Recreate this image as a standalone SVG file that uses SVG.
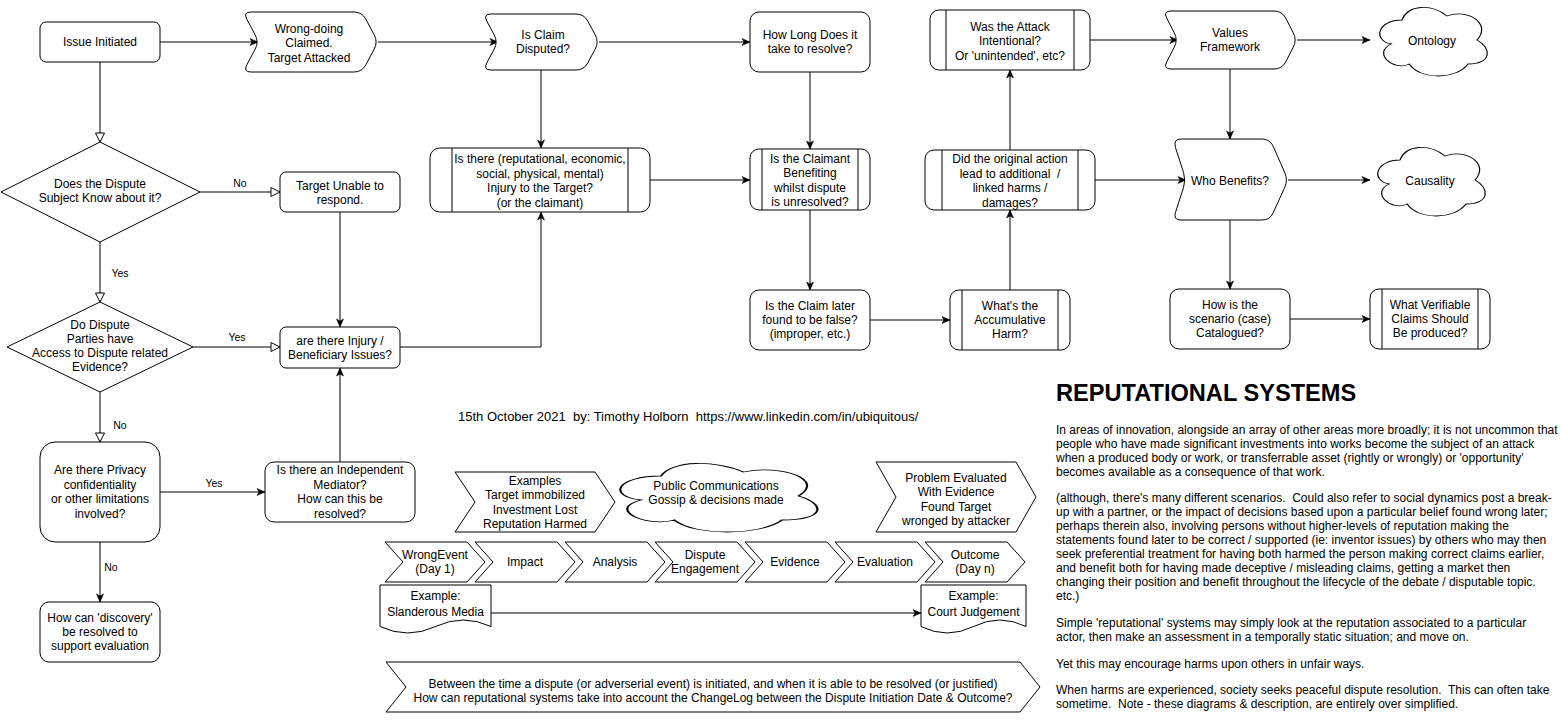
<svg xmlns="http://www.w3.org/2000/svg" width="1561" height="724" viewBox="0 0 1561 724">
<style>
.s{fill:#fff;stroke:#000;stroke-width:1}
.l{fill:none;stroke:#000;stroke-width:1}
text{font-family:"Liberation Sans",Arial,Helvetica,sans-serif;font-size:12px;fill:#000;white-space:pre}
.c{text-anchor:middle}
.lb{font-size:10.5px;text-anchor:middle}
.h{font-size:23.6px;font-weight:bold}
.cr{font-size:13px}
.cl{fill:#fff;stroke:#000;stroke-width:1;vector-effect:non-scaling-stroke}
</style>
<defs>
<marker id="a" markerUnits="userSpaceOnUse" markerWidth="10" markerHeight="10" refX="8" refY="4" orient="auto" overflow="visible"><path d="M0,0.5 L8,4 L0,7.5 L2,4 Z" fill="#000" stroke="#000" stroke-width="0.5"/></marker>
<marker id="o" markerUnits="userSpaceOnUse" markerWidth="12" markerHeight="12" refX="9" refY="4.5" orient="auto" overflow="visible"><path d="M0,0 L9,4.5 L0,9 Z" fill="#fff" stroke="#000" stroke-width="1"/></marker>
<path id="cloud" d="M25,25 C5,25 0,50 16,55 C0,66 18,90 31,80 C40,100 70,100 80,80 C100,80 100,60 87.5,50 C100,30 80,10 62.5,20 C50,5 30,5 25,25 Z"/>
</defs>
<rect x="0" y="0" width="1561" height="724" fill="#fff"/>

<g id="connectors">
<path class="l" d="M160,42 H258" marker-end="url(#a)"/>
<path class="l" d="M378,42 H498" marker-end="url(#a)"/>
<path class="l" d="M599,42 H750" marker-end="url(#a)"/>
<path class="l" d="M541,70 V148" marker-end="url(#a)"/>
<path class="l" d="M810,72 V149" marker-end="url(#a)"/>
<path class="l" d="M650,180 H750" marker-end="url(#a)"/>
<path class="l" d="M810,210 V290" marker-end="url(#a)"/>
<path class="l" d="M870,320 H950" marker-end="url(#a)"/>
<path class="l" d="M1010,290 V210" marker-end="url(#a)"/>
<path class="l" d="M1010,150 V70" marker-end="url(#a)"/>
<path class="l" d="M1090,40 H1178" marker-end="url(#a)"/>
<path class="l" d="M1095,180 H1186" marker-end="url(#a)"/>
<path class="l" d="M1297,40 H1370" marker-end="url(#a)"/>
<path class="l" d="M1230,69 V139" marker-end="url(#a)"/>
<path class="l" d="M1288,180 H1370" marker-end="url(#a)"/>
<path class="l" d="M1230,220 V289" marker-end="url(#a)"/>
<path class="l" d="M1290,319 H1370" marker-end="url(#a)"/>
<path class="l" d="M100,62 V142" marker-end="url(#o)"/>
<path class="l" d="M200,192 H280" marker-end="url(#o)"/>
<path class="l" d="M100,242 V302" marker-end="url(#o)"/>
<path class="l" d="M193,347 H280" marker-end="url(#o)"/>
<path class="l" d="M100,392 V442" marker-end="url(#o)"/>
<path class="l" d="M340,212 V327" marker-end="url(#a)"/>
<path class="l" d="M400,347 H541 V212" marker-end="url(#a)"/>
<path class="l" d="M160,492 H265" marker-end="url(#a)"/>
<path class="l" d="M100,542 V602" marker-end="url(#a)"/>
<path class="l" d="M340,462 V368" marker-end="url(#a)"/>
<path class="l" d="M491,613 H921" marker-end="url(#a)"/>
<text class="lb" x="240" y="187">No</text>
<text class="lb" x="120" y="277">Yes</text>
<text class="lb" x="237" y="341">Yes</text>
<text class="lb" x="120" y="429">No</text>
<text class="lb" x="214" y="487">Yes</text>
<text class="lb" x="111" y="571">No</text>
</g>

<g id="issue-initiated"><rect class="s" x="40" y="22" width="120" height="40" rx="6"/><text class="c" x="100" y="46">Issue Initiated</text></g>

<g id="wrong-doing"><path class="s" d="M300,12 L354,12 Q362,12 365.8,19.1 L374.2,34.9 Q378,42 374.2,49.1 L365.8,64.9 Q362,72 354,72 L251,72 Q243,72 246.8,64.9 L255.2,49.1 Q259,42 255.2,34.9 L246.8,19.1 Q243,12 251,12 Z"/><text class="c"><tspan x="309" y="33">Wrong-doing</tspan><tspan x="309" y="47.4">Claimed.</tspan><tspan x="309" y="61.8">Target Attacked</tspan></text></g>

<g id="is-claim-disputed"><path class="s" d="M540,14 L576,14 Q584,14 587.8,21.1 L595.2,34.9 Q599,42 595.2,49.1 L587.8,62.9 Q584,70 576,70 L491,70 Q483,70 486.8,62.9 L494.2,49.1 Q498,42 494.2,34.9 L486.8,21.1 Q483,14 491,14 Z"/><text class="c"><tspan x="543" y="39">Is Claim</tspan><tspan x="543" y="53.4">Disputed?</tspan></text></g>

<g id="how-long"><rect class="s" x="750" y="12" width="120" height="60" rx="9"/><text class="c"><tspan x="810" y="39">How Long Does it</tspan><tspan x="810" y="53.4">take to resolve?</tspan></text></g>

<g id="was-attack-intentional"><rect class="s" x="930" y="10" width="160" height="60" rx="9"/><path class="l" d="M946,10 V70 M1074,10 V70"/><text class="c"><tspan x="1010" y="30.8">Was the Attack</tspan><tspan x="1010" y="45.2">Intentional?</tspan><tspan x="1010" y="59.6">Or 'unintended', etc?</tspan></text></g>

<g id="values-framework"><path class="s" d="M1230,11 L1274,11 Q1282,11 1285.7,18.1 L1293.3,32.9 Q1297,40 1293.3,47.1 L1285.7,61.9 Q1282,69 1274,69 L1171,69 Q1163,69 1166.7,61.9 L1174.3,47.1 Q1178,40 1174.3,32.9 L1166.7,18.1 Q1163,11 1171,11 Z"/><text class="c"><tspan x="1230" y="37">Values</tspan><tspan x="1230" y="51.4">Framework</tspan></text></g>

<g id="ontology"><use href="#cloud" class="cl" transform="translate(1372,0) scale(1.2,0.8)"/><text class="c" x="1432" y="45">Ontology</text></g>

<g id="dispute-subject-know"><polygon class="s" points="100,142 200,192 100,242 1,192"/><text class="c"><tspan x="100" y="188">Does the Dispute</tspan><tspan x="100" y="202.4">Subject Know about it?</tspan></text></g>

<g id="target-unable"><rect class="s" x="280" y="172" width="120" height="40" rx="6"/><text class="c"><tspan x="340" y="190">Target Unable to</tspan><tspan x="340" y="204.4">respond.</tspan></text></g>

<g id="is-there-injury"><rect class="s" x="430" y="148" width="220" height="64" rx="9.6"/><path class="l" d="M452,148 V212 M628,148 V212"/><text class="c"><tspan x="540" y="163.4">Is there (reputational, economic,</tspan><tspan x="540" y="177.8">social, physical, mental)</tspan><tspan x="540" y="192.2">Injury to the Target?</tspan><tspan x="540" y="206.6">(or the claimant)</tspan></text></g>

<g id="claimant-benefiting"><rect class="s" x="750" y="149" width="120" height="61" rx="9"/><path class="l" d="M762,149 V210 M858,149 V210"/><text class="c"><tspan x="810" y="162.8">Is the Claimant</tspan><tspan x="810" y="177.2">Benefiting</tspan><tspan x="810" y="191.6">whilst dispute</tspan><tspan x="810" y="206">is unresolved?</tspan></text></g>

<g id="did-original-action"><rect class="s" x="925" y="150" width="170" height="60" rx="9"/><path class="l" d="M942,150 V210 M1078,150 V210"/><text class="c"><tspan x="1010" y="163.4">Did the original action</tspan><tspan x="1010" y="177.8">lead to additional  /</tspan><tspan x="1010" y="192.2">linked harms /</tspan><tspan x="1010" y="206.6">damages?</tspan></text></g>

<g id="who-benefits"><path class="s" d="M1220,139 L1262,139 Q1270,139 1273.2,146.3 L1284.8,172.7 Q1288,180 1284.8,187.3 L1273.2,212.7 Q1270,220 1262,220 L1181,220 Q1173,220 1175.5,212.4 L1183.5,187.6 Q1186,180 1183.5,172.4 L1175.5,147.6 Q1173,139 1181,139 Z"/><text class="c" x="1230" y="185">Who Benefits?</text></g>

<g id="causality"><use href="#cloud" class="cl" transform="translate(1370,140) scale(1.2,0.8)"/><text class="c" x="1430" y="185">Causality</text></g>

<g id="dispute-parties-access"><polygon class="s" points="100,302 193,347 100,392 7,347"/><text class="c"><tspan x="100" y="329">Do Dispute</tspan><tspan x="100" y="343">Parties have</tspan><tspan x="100" y="357">Access to Dispute related</tspan><tspan x="100" y="371">Evidence?</tspan></text></g>

<g id="injury-beneficiary"><rect class="s" x="280" y="327" width="120" height="41" rx="6"/><text class="c"><tspan x="340" y="345">are there Injury /</tspan><tspan x="340" y="359.4">Beneficiary Issues?</tspan></text></g>

<g id="claim-later-false"><rect class="s" x="750" y="290" width="120" height="60" rx="9"/><text class="c"><tspan x="810" y="309.6">Is the Claim later</tspan><tspan x="810" y="324">found to be false?</tspan><tspan x="810" y="338.4">(improper, etc.)</tspan></text></g>

<g id="accumulative-harm"><rect class="s" x="950" y="290" width="120" height="60" rx="9"/><path class="l" d="M962,290 V350 M1058,290 V350"/><text class="c"><tspan x="1010" y="309.6">What's the</tspan><tspan x="1010" y="324">Accumulative</tspan><tspan x="1010" y="338.4">Harm?</tspan></text></g>

<g id="scenario-catalogued"><rect class="s" x="1170" y="289" width="120" height="60" rx="9"/><text class="c"><tspan x="1230" y="308.6">How is the</tspan><tspan x="1230" y="323">scenario (case)</tspan><tspan x="1230" y="337.4">Catalogued?</tspan></text></g>

<g id="verifiable-claims"><rect class="s" x="1370" y="289" width="120" height="60" rx="9"/><path class="l" d="M1382,289 V349 M1478,289 V349"/><text class="c"><tspan x="1430" y="308.6">What Verifiable</tspan><tspan x="1430" y="323">Claims Should</tspan><tspan x="1430" y="337.4">Be produced?</tspan></text></g>

<g id="privacy"><rect class="s" x="40" y="442" width="120" height="100" rx="15"/><text class="c"><tspan x="100" y="474.4">Are there Privacy</tspan><tspan x="100" y="488.8">confidentiality</tspan><tspan x="100" y="503.2">or other limitations</tspan><tspan x="100" y="517.6">involved?</tspan></text></g>

<g id="independent-mediator"><rect class="s" x="265" y="462" width="150" height="60" rx="9"/><text class="c"><tspan x="340" y="474.4">Is there an Independent</tspan><tspan x="340" y="488.8">Mediator?</tspan><tspan x="340" y="503.2">How can this be</tspan><tspan x="340" y="517.6">resolved?</tspan></text></g>

<g id="discovery"><rect class="s" x="40" y="602" width="120" height="60" rx="9"/><text class="c"><tspan x="100" y="621.6">How can 'discovery'</tspan><tspan x="100" y="636">be resolved to</tspan><tspan x="100" y="650.4">support evaluation</tspan></text></g>

<g id="credit"><text class="cr" x="458" y="421">15th October 2021  by: Timothy Holborn  https://www.linkedin.com/in/ubiquitous/</text></g>

<g id="examples"><path class="s" d="M455,472 L595,472 L615,502 L595,532 L455,532 L475,502 Z"/><text class="c"><tspan x="535" y="485">Examples</tspan><tspan x="535" y="499.4">Target immobilized</tspan><tspan x="535" y="513.8">Investment Lost</tspan><tspan x="535" y="528.2">Reputation Harmed</tspan></text></g>

<g id="public-communications"><use href="#cloud" class="cl" transform="translate(606,456) scale(2.2,0.8)"/><text class="c"><tspan x="716" y="490">Public Communications</tspan><tspan x="716" y="504.4">Gossip &amp; decisions made</tspan></text></g>

<g id="problem-evaluated"><path class="s" d="M876,462 L1016,462 L1036,497 L1016,532 L876,532 L896,497 Z"/><text class="c"><tspan x="956" y="482">Problem Evaluated</tspan><tspan x="956" y="496.4">With Evidence</tspan><tspan x="956" y="510.8">Found Target</tspan><tspan x="956" y="525.2">wronged by attacker</tspan></text></g>

<g id="step-wrongevent"><path class="s" d="M385,542 L467,542 L485,562 L467,582 L385,582 L403,562 Z"/><text class="c"><tspan x="435" y="559">WrongEvent</tspan><tspan x="435" y="573.4">(Day 1)</tspan></text></g>
<g id="step-impact"><path class="s" d="M475,542 L557,542 L575,562 L557,582 L475,582 L493,562 Z"/><text class="c" x="525" y="566">Impact</text></g>
<g id="step-analysis"><path class="s" d="M565,542 L647,542 L665,562 L647,582 L565,582 L583,562 Z"/><text class="c" x="615" y="566">Analysis</text></g>
<g id="step-dispute-engagement"><path class="s" d="M655,542 L737,542 L755,562 L737,582 L655,582 L673,562 Z"/><text class="c"><tspan x="705" y="559">Dispute</tspan><tspan x="705" y="573.4">Engagement</tspan></text></g>
<g id="step-evidence"><path class="s" d="M745,542 L827,542 L845,562 L827,582 L745,582 L763,562 Z"/><text class="c" x="795" y="566">Evidence</text></g>
<g id="step-evaluation"><path class="s" d="M835,542 L917,542 L935,562 L917,582 L835,582 L853,562 Z"/><text class="c" x="885" y="566">Evaluation</text></g>
<g id="step-outcome"><path class="s" d="M925,542 L1007,542 L1025,562 L1007,582 L925,582 L943,562 Z"/><text class="c"><tspan x="975" y="559">Outcome</tspan><tspan x="975" y="573.4">(Day n)</tspan></text></g>

<g id="example-slanderous"><path class="s" d="M380,585 H491 V626.5 Q463.25,613.5 435.5,626.5 Q407.75,639.5 380,626.5 Z"/><text class="c"><tspan x="435.5" y="600">Example:</tspan><tspan x="435.5" y="615.5">Slanderous Media</tspan></text></g>
<g id="example-court"><path class="s" d="M921,585 H1026 V626.5 Q999.75,613.5 973.5,626.5 Q947.25,639.5 921,626.5 Z"/><text class="c"><tspan x="973.5" y="600">Example:</tspan><tspan x="973.5" y="615.5">Court Judgement</tspan></text></g>

<g id="changelog-question"><path class="s" d="M386,662 L1020,662 L1040,687 L1020,712 L386,712 L406,687 Z"/><text class="c"><tspan x="713" y="687.5">Between the time a dispute (or adverserial event) is initiated, and when it is able to be resolved (or justified)</tspan><tspan x="713" y="701.5">How can reputational systems take into account the ChangeLog between the Dispute Initiation Date &amp; Outcome?</tspan></text></g>

<g id="reputational-systems-text">
<text class="h" x="1056" y="401">REPUTATIONAL SYSTEMS</text>
<text x="1056"><tspan x="1056" y="434">In areas of innovation, alongside an array of other areas more broadly; it is not uncommon that</tspan><tspan x="1056" y="448">people who have made significant investments into works become the subject of an attack</tspan><tspan x="1056" y="462">when a produced body or work, or transferrable asset (rightly or wrongly) or 'opportunity'</tspan><tspan x="1056" y="476">becomes available as a consequence of that work.</tspan><tspan x="1056" y="502">(although, there's many different scenarios.  Could also refer to social dynamics post a break-</tspan><tspan x="1056" y="516">up with a partner, or the impact of decisions based upon a particular belief found wrong later;</tspan><tspan x="1056" y="530">perhaps therein also, involving persons without higher-levels of reputation making the</tspan><tspan x="1056" y="544">statements found later to be correct / supported (ie: inventor issues) by others who may then</tspan><tspan x="1056" y="558">seek preferential treatment for having both harmed the person making correct claims earlier,</tspan><tspan x="1056" y="572">and benefit both for having made deceptive / misleading claims, getting a market then</tspan><tspan x="1056" y="586">changing their position and benefit throughout the lifecycle of the debate / disputable topic.</tspan><tspan x="1056" y="600">etc.)</tspan><tspan x="1056" y="627">Simple 'reputational' systems may simply look at the reputation associated to a particular</tspan><tspan x="1056" y="641">actor, then make an assessment in a temporally static situation; and move on.</tspan><tspan x="1056" y="668">Yet this may encourage harms upon others in unfair ways.</tspan><tspan x="1056" y="694">When harms are experienced, society seeks peaceful dispute resolution.  This can often take</tspan><tspan x="1056" y="708">sometime.  Note - these diagrams &amp; description, are entirely over simplified.</tspan></text>
</g>
</svg>
